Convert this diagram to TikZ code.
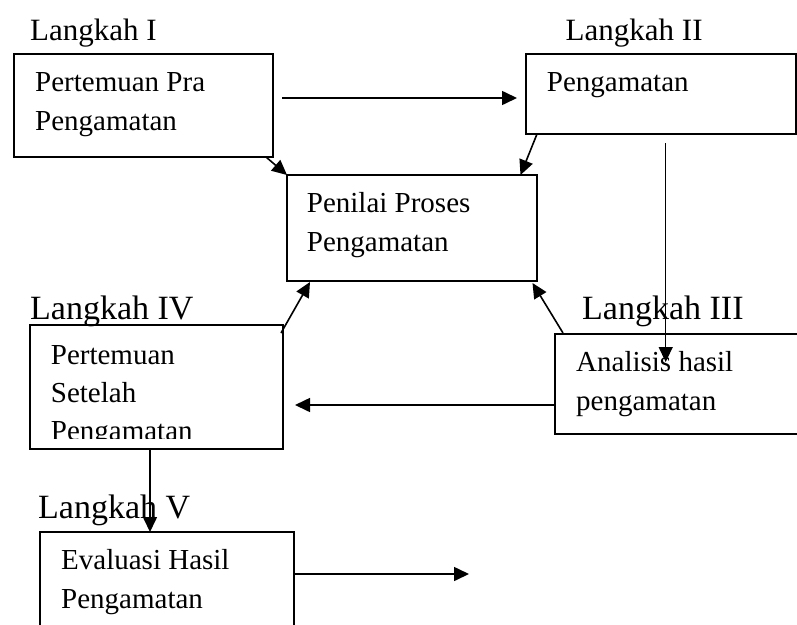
\documentclass[tikz,border=0pt]{standalone}
\usepackage{fontspec}
\setmainfont{Liberation Serif}
\usetikzlibrary{arrows.meta,calc}
\begin{document}
\begin{tikzpicture}[x=1pt,y=-1pt,
  box/.style={draw, line width=2pt, rectangle, inner sep=0pt, outer sep=0pt, anchor=north west},
  arr/.style={line width=1.6pt, -{Triangle[length=15pt,width=14pt]}},
  body/.style={anchor=base west, inner sep=0pt, font=\fontsize{29}{29}\selectfont},
  stepa/.style={anchor=base west, inner sep=0pt, font=\fontsize{31}{31}\selectfont},
  stepb/.style={anchor=base west, inner sep=0pt, font=\fontsize{34}{34}\selectfont}]
\clip (0,0) rectangle (797,624);
\fill[white] (0,0) rectangle (797,624);
% boxes
\node[box, minimum width=259pt, minimum height=103pt] (b1) at (14,54) {};
\node[box, minimum width=270pt, minimum height=80pt] (b2) at (526,54) {};
\node[box, minimum width=250pt, minimum height=106pt] (bp) at (287,175) {};
\node[box, minimum width=253pt, minimum height=124pt] (b4) at (30,325) {};
\node[box, minimum width=260pt, minimum height=100pt] (b3) at (555,334) {};
\node[box, minimum width=254pt, minimum height=120pt] (b5) at (40,532) {};
% step labels
\node[stepa] (l1) at (30,40.7) {Langkah I};
\node[stepa] (l2) at (565.5,40.7) {Langkah II};
\node[stepb] (l4) at (30,319.3) {Langkah IV};
\node[stepb] (l3) at (582,319.3) {Langkah III};
\node[stepb] (l5) at (38,518.3) {Langkah V};
% box texts
\node[body] (t1a) at (35,91.7) {Pertemuan Pra};
\node[body] (t1b) at (35,130) {Pengamatan};
\node[body] (t2a) at (546.7,91.7) {Pengamatan};
\node[body] (tpa) at (306.7,212) {Penilai Proses};
\node[body] (tpb) at (306.7,251) {Pengamatan};
\node[body] (t4a) at (50.7,364) {Pertemuan};
\node[body] (t4b) at (50.7,402) {Setelah};
\begin{scope}
\clip (0,300) rectangle (300,438.5);
\node[body] (t4c) at (50.7,440) {Pengamatan};
\end{scope}
\node[body] (t3a) at (576,371.7) {Analisis hasil};
\node[body] (t3b) at (576,410) {pengamatan};
\node[body] (t5a) at (61,569) {Evaluasi Hasil};
\node[body] (t5b) at (61,608) {Pengamatan};
% connectors
\draw[arr] ($(b1.north east)+(9,44)$) -- ($(b2.north west)+(-9,44)$);
\draw[arr] ($(b1.south east)+(-7,0)$) -- (bp.north west);
\draw[arr] ($(b2.south west)+(11,0)$) -- ($(bp.north east)+(-16.5,0)$);
\draw[arr, line width=1.3pt] ($(b2.south west)+(139.7,9)$) -- ($(b3.north west)+(110.7,28)$);
\draw[arr] ($(b3.north west)+(8,-1)$) -- ($(bp.south east)+(-4.5,2)$);
\draw[arr] ($(b4.north east)+(-2,8)$) -- ($(bp.south west)+(23,1)$);
\draw[arr] ($(b3.north west)+(0,71)$) -- ($(b4.north east)+(12,80)$);
\draw[arr] ($(b4.south west)+(120,0)$) -- ($(b5.north west)+(110,0)$);
\coordinate (out5) at (469,574);
\draw[arr] ($(b5.north east)+(0,42)$) -- (out5);
\end{tikzpicture}
\end{document}
